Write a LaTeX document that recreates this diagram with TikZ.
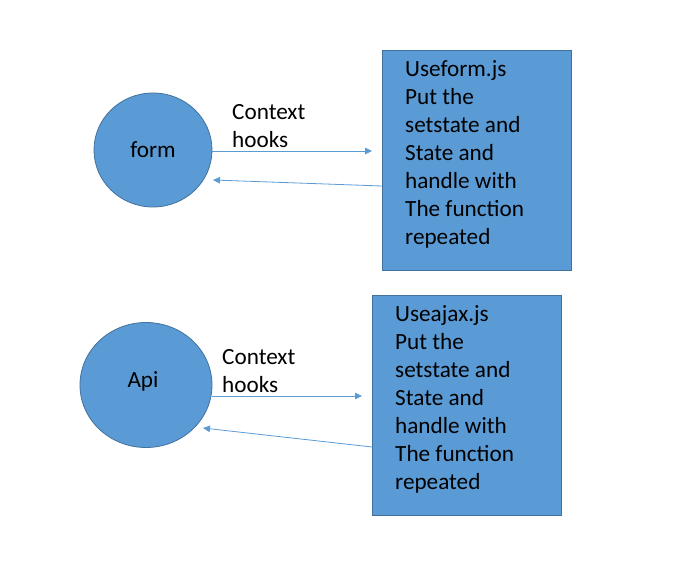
\documentclass[tikz,border=0pt]{standalone}
\usepackage{fontspec}
\setmainfont{Carlito}
\usetikzlibrary{arrows.meta,shapes.geometric}
\definecolor{ofill}{HTML}{5B9BD5}
\definecolor{oline}{HTML}{41719C}
\begin{document}
\begin{tikzpicture}[x=1pt,y=-1pt,
  blob/.style={ellipse,draw=oline,fill=ofill,line width=0.8pt,inner sep=0pt},
  panel/.style={rectangle,draw=oline,fill=ofill,line width=0.8pt,inner sep=0pt,anchor=north west},
  txt/.style={font=\fontsize{23.2}{28}\selectfont,text=black},
  para/.style={txt,align=left,anchor=base west,inner sep=0pt},
  arr/.style={draw=ofill,line width=0.8pt,-{Triangle[length=7pt,width=6.5pt]}}
]
\useasboundingbox (0,0) rectangle (682,567);
\fill[white] (0,0) rectangle (682,567);
% top group
\node[blob,minimum width=118pt,minimum height=114pt] (form) at (153,150) {};
\node[txt] (formlbl) at (153,150) {form};
\node[panel,minimum width=189pt,minimum height=220pt] (box1) at (382,50) {};
\node[para] (box1txt) at (405,244) {Useform.js\\Put the\\setstate and\\State and\\handle with\\The function\\repeated};
\node[para] (ctx1) at (232,147) {Context\\hooks};
\coordinate (a1s) at (212,151);
\coordinate (a1e) at (372,151);
\coordinate (r1s) at (382,186);
\coordinate (r1e) at (213,180);
\draw[arr] (a1s) -- (a1e);
\draw[arr] (r1s) -- (r1e);
% bottom group
\node[blob,minimum width=132pt,minimum height=125pt] (api) at (146,385) {};
\node[txt] (apilbl) at (143,381) {Api};
\node[panel,minimum width=189pt,minimum height=220pt] (box2) at (372,295) {};
\node[para] (box2txt) at (395,489) {Useajax.js\\Put the\\setstate and\\State and\\handle with\\The function\\repeated};
\node[para] (ctx2) at (222,392) {Context\\hooks};
\coordinate (a2s) at (212,396);
\coordinate (a2e) at (362,396);
\coordinate (r2s) at (372,447);
\coordinate (r2e) at (203,428);
\draw[arr] (a2s) -- (a2e);
\draw[arr] (r2s) -- (r2e);
\end{tikzpicture}
\end{document}
